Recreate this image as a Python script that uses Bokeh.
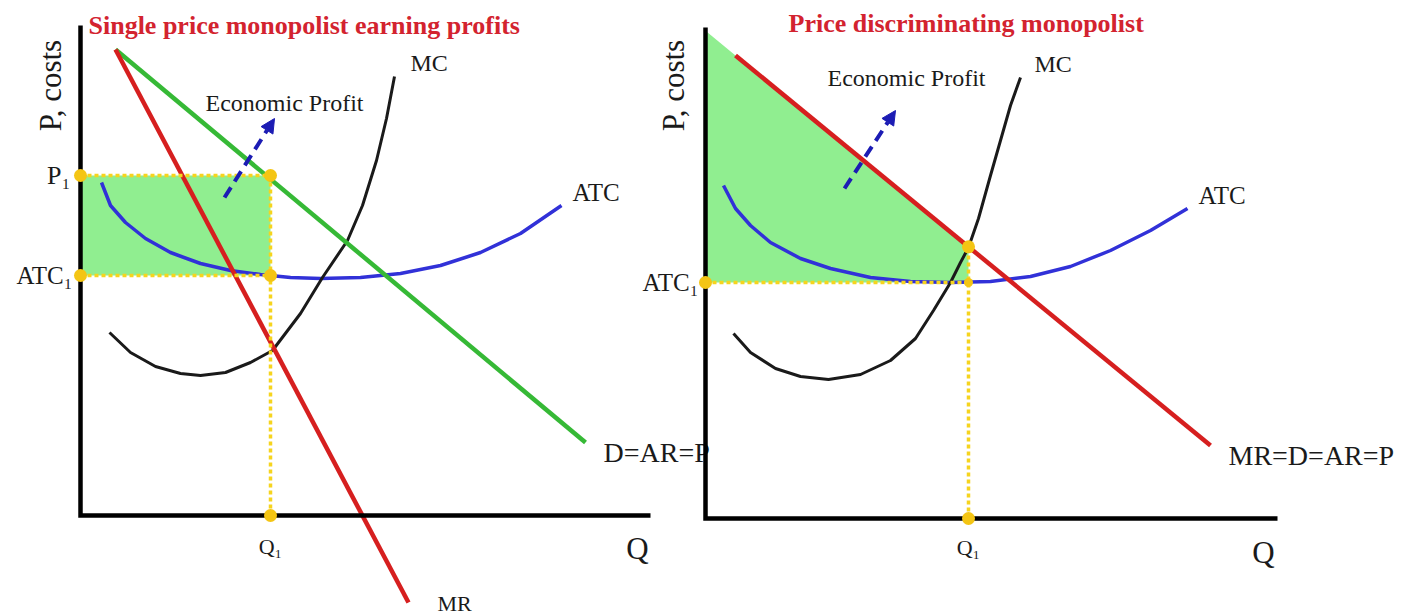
from bokeh.plotting import figure
from bokeh.models import Range1d, Arrow, NormalHead
from bokeh.core.properties import value
from bokeh.embed import file_html
from bokeh.resources import INLINE
import math

# ---------------- data (Q, P units) ----------------
# Left panel: single price monopolist
L_AXIS_QMAX = 11.4
L_AXIS_PMAX = 9.8
L_D_Q = [0.7, 10.1]
L_D_P = [9.32, 1.46]
L_MR_Q = [0.7, 6.56]
L_MR_P = [9.32, -1.74]
L_MC_Q = [0.58, 1.0, 1.5, 2.0, 2.4, 2.9, 3.4, 3.84, 4.4, 4.84, 5.34, 5.64, 5.92, 6.12, 6.28]
L_MC_P = [3.66, 3.26, 2.98, 2.84, 2.8, 2.86, 3.06, 3.3, 4.04, 4.76, 5.5, 6.2, 7.1, 7.94, 8.78]
L_ATC_Q = [0.42, 0.6, 0.9, 1.3, 1.8, 2.4, 3.0, 3.6, 4.2, 4.8, 5.6, 6.4, 7.2, 8.0, 8.8, 9.62]
L_ATC_P = [6.66, 6.2, 5.86, 5.54, 5.26, 5.04, 4.9, 4.82, 4.76, 4.74, 4.76, 4.84, 5.0, 5.26, 5.64, 6.2]
L_Q1 = 3.8
L_P1 = 6.8
L_ATC1 = 4.8
L_ARROW = (2.88, 6.36, 3.88, 7.94)

# Right panel: price discriminating monopolist
R_AXIS_QMAX = 11.44
R_AXIS_PMAX = 9.82
R_D_Q = [0.6, 10.1]
R_D_P = [9.26, 1.46]
R_MC_Q = [0.56, 0.9, 1.4, 1.9, 2.46, 3.1, 3.7, 4.2, 4.56, 4.9, 5.1, 5.26, 5.46, 5.7, 5.9, 6.1, 6.3]
R_MC_P = [3.7, 3.32, 3.0, 2.84, 2.78, 2.88, 3.16, 3.6, 4.16, 4.72, 5.12, 5.42, 6.0, 6.86, 7.56, 8.26, 8.82]
R_ATC_Q = [0.36, 0.6, 0.9, 1.3, 1.9, 2.5, 3.3, 4.1, 4.9, 5.7, 6.5, 7.3, 8.1, 8.9, 9.64]
R_ATC_P = [6.66, 6.2, 5.86, 5.52, 5.2, 5.0, 4.82, 4.74, 4.72, 4.74, 4.84, 5.04, 5.36, 5.76, 6.2]
R_Q1 = 5.26
R_ATC1 = 4.72
R_ARROW = (2.78, 6.6, 3.8, 8.16)

# ---------------- styles ----------------
SERIF = value("Liberation Serif")
GREEN = "#36b936"
RED = "#d61f1f"
BLUE = "#3131d8"
BLACK = "#1a1a1a"
FILL = "#90ee90"
YELLOW = "#f6d41e"
DOT = "#f4c514"
ARROWC = "#1c1cb4"
TITLE = "#d3232f"

p = figure(width=1417, height=615,
           x_range=Range1d(-1.6, 26.74), y_range=Range1d(-2.0, 10.3),
           output_backend="svg", toolbar_location=None,
           x_axis_location=None, y_axis_location=None,
           min_border=0, min_border_left=0, min_border_right=0,
           min_border_top=0, min_border_bottom=0,
           outline_line_color=None, background_fill_color="white",
           border_fill_color="white")
p.grid.visible = False
p.extra_x_ranges = {"r": Range1d(-14.1, 14.24)}
p.extra_y_ranges = {"r": Range1d(-1.94, 10.36)}
R = dict(x_range_name="r", y_range_name="r")


def line_at(qs, ps, q):
    slope = (ps[1] - ps[0]) / (qs[1] - qs[0])
    return ps[0] + slope * (q - qs[0])


# ================= LEFT PANEL =================
p.quad(left=0, right=L_Q1, bottom=L_ATC1, top=L_P1, fill_color=FILL, line_color=None)
p.line(L_ATC_Q, L_ATC_P, line_color=BLUE, line_width=3.5, line_join="round")
p.line(L_MC_Q, L_MC_P, line_color=BLACK, line_width=3, line_join="round")
p.line(L_D_Q, L_D_P, line_color=GREEN, line_width=4.5)
p.line(L_MR_Q, L_MR_P, line_color=RED, line_width=4.5)
p.line([0, L_Q1], [L_P1, L_P1], line_color=YELLOW, line_width=3.5, line_dash="4 3")
p.line([0, L_Q1], [L_ATC1, L_ATC1], line_color=YELLOW, line_width=3.5, line_dash="4 3")
p.line([L_Q1, L_Q1], [0, L_P1], line_color=YELLOW, line_width=3.5, line_dash="4 3")
p.line([0, 0, L_AXIS_QMAX], [L_AXIS_PMAX, 0, 0], line_color="black", line_width=4.5,
       line_join="miter")
p.scatter([0, L_Q1, 0, L_Q1, L_Q1], [L_P1, L_P1, L_ATC1, L_ATC1, 0], size=13,
          fill_color=DOT, line_color=None)
p.add_layout(Arrow(x_start=L_ARROW[0], y_start=L_ARROW[1], x_end=L_ARROW[2], y_end=L_ARROW[3],
                   line_color=ARROWC, line_width=4, line_dash="12 7",
                   end=NormalHead(size=14, fill_color=ARROWC, line_color=ARROWC)))
p.text([0.16], [9.8], text=["Single price monopolist earning profits"], text_font=SERIF,
       text_font_size="26px", text_font_style="bold", text_color=TITLE,
       text_align="left", text_baseline="middle")
p.text([-0.6], [8.6], text=["P, costs"], angle=math.pi / 2, text_font=SERIF,
       text_font_size="31px", text_color=BLACK, text_align="center", text_baseline="middle")
p.text([-0.2], [L_P1], text=["P\u2081"], text_font=SERIF, text_font_size="26px",
       text_color=BLACK, text_align="right", text_baseline="middle")
p.text([-0.16], [L_ATC1], text=["ATC\u2081"], text_font=SERIF, text_font_size="25px",
       text_color=BLACK, text_align="right", text_baseline="middle")
p.text([L_Q1], [-0.62], text=["Q\u2081"], text_font=SERIF, text_font_size="22px",
       text_color=BLACK, text_align="center", text_baseline="middle")
p.text([11.14], [-0.66], text=["Q"], text_font=SERIF, text_font_size="31px",
       text_color=BLACK, text_align="center", text_baseline="middle")
p.text([2.5], [8.26], text=["Economic Profit"], text_font=SERIF, text_font_size="24px",
       text_color=BLACK, text_align="left", text_baseline="middle")
p.text([6.6], [9.06], text=["MC"], text_font=SERIF, text_font_size="24px",
       text_color=BLACK, text_align="left", text_baseline="middle")
p.text([9.84], [6.46], text=["ATC"], text_font=SERIF, text_font_size="25px",
       text_color=BLACK, text_align="left", text_baseline="middle")
p.text([10.46], [1.26], text=["D=AR=P"], text_font=SERIF, text_font_size="28px",
       text_color=BLACK, text_align="left", text_baseline="middle")
p.text([7.14], [-1.76], text=["MR"], text_font=SERIF, text_font_size="22px",
       text_color=BLACK, text_align="left", text_baseline="middle")

# ================= RIGHT PANEL =================
r_p0 = line_at(R_D_Q, R_D_P, 0.0)
r_pq1 = line_at(R_D_Q, R_D_P, R_Q1)
p.patch([0, R_Q1, R_Q1, 0], [r_p0, r_pq1, R_ATC1, R_ATC1], fill_color=FILL, line_color=None, **R)
p.line(R_ATC_Q, R_ATC_P, line_color=BLUE, line_width=3.5, line_join="round", **R)
p.line(R_MC_Q, R_MC_P, line_color=BLACK, line_width=3, line_join="round", **R)
p.line(R_D_Q, R_D_P, line_color=RED, line_width=4.5, **R)
p.line([0, R_Q1], [R_ATC1, R_ATC1], line_color=YELLOW, line_width=3.5, line_dash="4 3", **R)
p.line([R_Q1, R_Q1], [0, r_pq1], line_color=YELLOW, line_width=3.5, line_dash="4 3", **R)
p.line([0, 0, R_AXIS_QMAX], [R_AXIS_PMAX, 0, 0], line_color="black", line_width=4.5,
       line_join="miter", **R)
p.scatter([0, R_Q1, R_Q1], [R_ATC1, r_pq1, 0], size=13, fill_color=DOT, line_color=None, **R)
p.scatter([R_Q1], [R_ATC1], size=9, fill_color=DOT, line_color=None, **R)
p.add_layout(Arrow(x_start=R_ARROW[0], y_start=R_ARROW[1], x_end=R_ARROW[2], y_end=R_ARROW[3],
                   line_color=ARROWC, line_width=4, line_dash="12 7",
                   end=NormalHead(size=14, fill_color=ARROWC, line_color=ARROWC), **R))
p.text([1.66], [9.9], text=["Price discriminating monopolist"], text_font=SERIF,
       text_font_size="26px", text_font_style="bold", text_color=TITLE,
       text_align="left", text_baseline="middle", **R)
p.text([-0.64], [8.66], text=["P, costs"], angle=math.pi / 2, text_font=SERIF,
       text_font_size="31px", text_color=BLACK, text_align="center", text_baseline="middle", **R)
p.text([-0.14], [R_ATC1], text=["ATC\u2081"], text_font=SERIF, text_font_size="25px",
       text_color=BLACK, text_align="right", text_baseline="middle", **R)
p.text([R_Q1], [-0.58], text=["Q\u2081"], text_font=SERIF, text_font_size="22px",
       text_color=BLACK, text_align="center", text_baseline="middle", **R)
p.text([11.16], [-0.68], text=["Q"], text_font=SERIF, text_font_size="31px",
       text_color=BLACK, text_align="center", text_baseline="middle", **R)
p.text([2.44], [8.82], text=["Economic Profit"], text_font=SERIF, text_font_size="24px",
       text_color=BLACK, text_align="left", text_baseline="middle", **R)
p.text([6.58], [9.1], text=["MC"], text_font=SERIF, text_font_size="24px",
       text_color=BLACK, text_align="left", text_baseline="middle", **R)
p.text([9.86], [6.46], text=["ATC"], text_font=SERIF, text_font_size="25px",
       text_color=BLACK, text_align="left", text_baseline="middle", **R)
p.text([10.46], [1.26], text=["MR=D=AR=P"], text_font=SERIF, text_font_size="28px",
       text_color=BLACK, text_align="left", text_baseline="middle", **R)

open("out.html", "w").write(file_html(p, INLINE))
